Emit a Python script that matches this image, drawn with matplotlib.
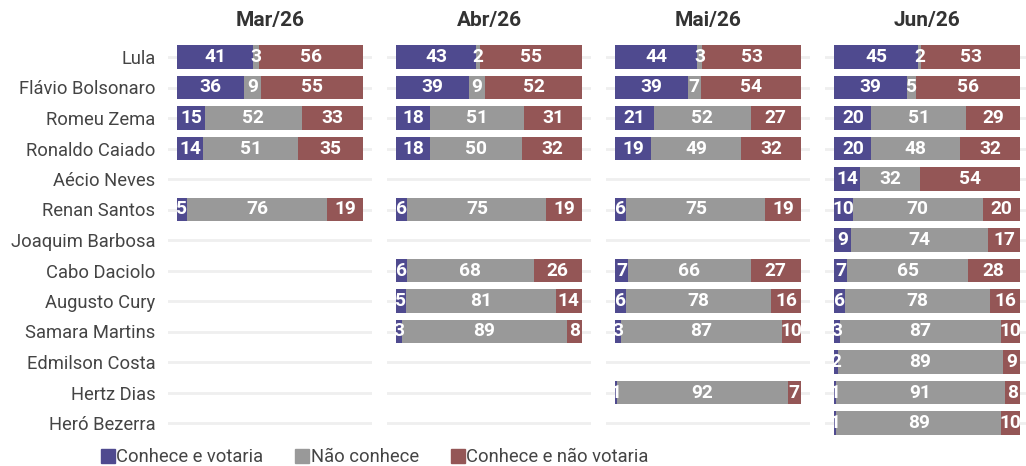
import matplotlib.pyplot as plt
from matplotlib.patches import Patch

plt.rcParams['font.family'] = ['Roboto', 'DejaVu Sans']

candidatos = ['Lula', 'Flávio Bolsonaro', 'Romeu Zema', 'Ronaldo Caiado', 'Aécio Neves',
              'Renan Santos', 'Joaquim Barbosa', 'Cabo Daciolo', 'Augusto Cury',
              'Samara Martins', 'Edmilson Costa', 'Hertz Dias', 'Heró Bezerra']
meses = ['Mar/26', 'Abr/26', 'Mai/26', 'Jun/26']

# None = candidato não testado no mês
votaria = [
    [41, 36, 15, 14, None, 5, None, None, None, None, None, None, None],
    [43, 39, 18, 18, None, 6, None, 6, 5, 3, None, None, None],
    [44, 39, 21, 19, None, 6, None, 7, 6, 3, None, 1, None],
    [45, 39, 20, 20, 14, 10, 9, 7, 6, 3, 2, 1, 1],
]
nao_conhece = [
    [3, 9, 52, 51, None, 76, None, None, None, None, None, None, None],
    [2, 9, 51, 50, None, 75, None, 68, 81, 89, None, None, None],
    [3, 7, 52, 49, None, 75, None, 66, 78, 87, None, 92, None],
    [2, 5, 51, 48, 32, 70, 74, 65, 78, 87, 89, 91, 89],
]
nao_votaria = [
    [56, 55, 33, 35, None, 19, None, None, None, None, None, None, None],
    [55, 52, 31, 32, None, 19, None, 26, 14, 8, None, None, None],
    [53, 54, 27, 32, None, 19, None, 27, 16, 10, None, 7, None],
    [53, 56, 29, 32, 54, 20, 17, 28, 16, 10, 9, 8, 10],
]

series = ['Conhece e votaria', 'Não conhece', 'Conhece e não votaria']
cores = ['#4f4a8f', '#999999', '#945656']

W, H = 1026, 466
fig = plt.figure(figsize=(W / 100, H / 100), dpi=100)

lefts = [168, 387, 606, 825]
top, bottom = 41.75, 438.25
ys = list(range(len(candidatos)))

for p, mes in enumerate(meses):
    ax = fig.add_axes([lefts[p] / W, 1 - bottom / H, 204 / W, (bottom - top) / H])
    dados = [votaria[p], nao_conhece[p], nao_votaria[p]]
    for y in ys:
        ax.axhline(y, color='#efefef', lw=2, zorder=0)
    for i, y in enumerate(ys):
        if dados[0][i] is None:
            continue
        esq = 0
        for s in range(3):
            v = dados[s][i]
            ax.barh(y, v, left=esq, height=0.76, color=cores[s], zorder=1)
            ax.text(esq + v / 2, y, str(v), ha='center', va='center', color='white',
                    fontsize=13.8, fontweight='bold', zorder=5)
            esq += v
    ax.set_xlim(-5, 105)
    ax.set_ylim(len(candidatos) - 0.5, -0.5)
    ax.set_xticks([])
    ax.set_yticks(ys)
    if p == 0:
        ax.set_yticklabels(candidatos, fontsize=13.2, color='#444444')
    else:
        ax.set_yticklabels([])
    ax.tick_params(axis='y', length=0, pad=9)
    for sp in ax.spines.values():
        sp.set_visible(False)
    ax.set_title(mes, fontsize=15, fontweight='bold', color='#333333', pad=11)

handles = [Patch(color=c, label=l) for c, l in zip(cores, series)]
fig.legend(handles=handles, loc='center left', bbox_to_anchor=(84 / W, 1 - 457 / H),
           ncol=3, frameon=False, handlelength=0.78, handleheight=0.78,
           handletextpad=0.06, columnspacing=1.75, labelcolor='#444444',
           prop={'size': 13.2})

fig.savefig('out.png', dpi=100)
